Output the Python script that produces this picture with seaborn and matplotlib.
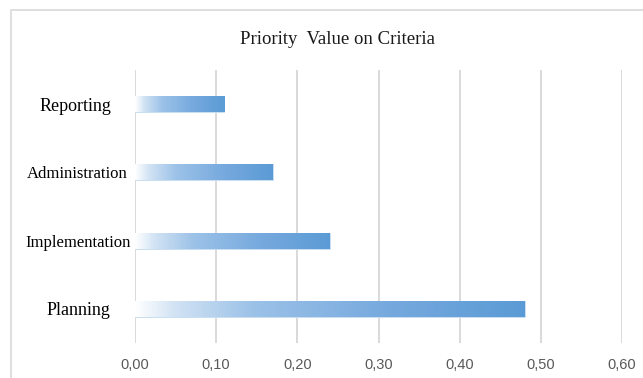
import numpy as np
import pandas as pd
import matplotlib
matplotlib.use("Agg")
import matplotlib.pyplot as plt
from matplotlib.colors import LinearSegmentedColormap
from matplotlib.patches import Rectangle
from matplotlib.ticker import FuncFormatter
import seaborn as sns

# Priority weights per criterion
criteria = ["Reporting", "Administration", "Implementation", "Planning"]
priority = [0.11, 0.17, 0.24, 0.48]
x_ticks = [0.0, 0.1, 0.2, 0.3, 0.4, 0.5, 0.6]

df = pd.DataFrame({"criteria": criteria, "priority": priority})

sns.set_theme(style="white")
plt.rcParams["font.family"] = ["Liberation Serif", "DejaVu Serif"]

fig = plt.figure(figsize=(6.43, 3.78), dpi=100)
ax = fig.add_axes([135 / 643, 35 / 378, 487 / 643, 273 / 378])

sns.barplot(data=df, x="priority", y="criteria", order=criteria,
            orient="h", width=0.235, color="#5B9BD5", ax=ax)

# white -> blue gradient along each bar
grad_cmap = LinearSegmentedColormap.from_list(
    "bar_grad",
    [(0.0, "#FFFFFF"), (0.10, "#D2E3F4"), (0.30, "#9CC2E8"),
     (0.65, "#76A9DE"), (1.0, "#5B9BD5")])
ramp = np.linspace(0, 1, 256).reshape(1, -1)
for patch in list(ax.patches):
    x0, y0 = patch.get_x(), patch.get_y()
    w, h = patch.get_width(), patch.get_height()
    patch.set_facecolor("none")
    patch.set_edgecolor("#C9DDF1")
    patch.set_linewidth(0.7)
    im = ax.imshow(ramp, cmap=grad_cmap, aspect="auto",
                   extent=(x0, x0 + w, y0 + h, y0), zorder=1.5,
                   interpolation="bilinear")
    im.set_clip_path(patch)

ax.set_xlim(0, 0.6)
ax.set_ylim(len(criteria) - 0.5, -0.5)
ax.set_xticks(x_ticks)
ax.xaxis.set_major_formatter(FuncFormatter(lambda v, p: f"{v:.2f}".replace(".", ",")))
ax.grid(axis="x", color="#D9D9D9", linewidth=1.4)
ax.grid(axis="y", visible=False)
ax.set_axisbelow(True)
for s in ax.spines.values():
    s.set_visible(False)
ax.set_xlabel("")
ax.set_ylabel("")
ax.tick_params(axis="x", length=0, pad=10.5, labelsize=10.5, labelcolor="#595959")
for lab in ax.get_xticklabels():
    lab.set_fontfamily(["Liberation Sans", "DejaVu Sans"])
ax.tick_params(axis="y", length=0, labelcolor="black")

label_sizes = {"Reporting": 13, "Administration": 12,
               "Implementation": 12, "Planning": 13}
label_pads = {"Reporting": 17, "Administration": 5.5,
              "Implementation": 3, "Planning": 18}
for tick, name in zip(ax.yaxis.get_major_ticks(), criteria):
    tick.set_pad(label_pads[name])
    tick.label1.set_fontsize(label_sizes[name])

fig.text(337 / 643, 1 - 40 / 378, "Priority  Value on Criteria",
         ha="center", va="center", fontsize=13.5, color="#1A1A1A")

# chart area frame
fig.patches.append(Rectangle((11 / 643, -0.1), 1.2, 1 - 10 / 378 + 0.1,
                             transform=fig.transFigure, fill=False,
                             edgecolor="#D9D9D9", linewidth=1.2))

fig.savefig("out.png", dpi=100)
